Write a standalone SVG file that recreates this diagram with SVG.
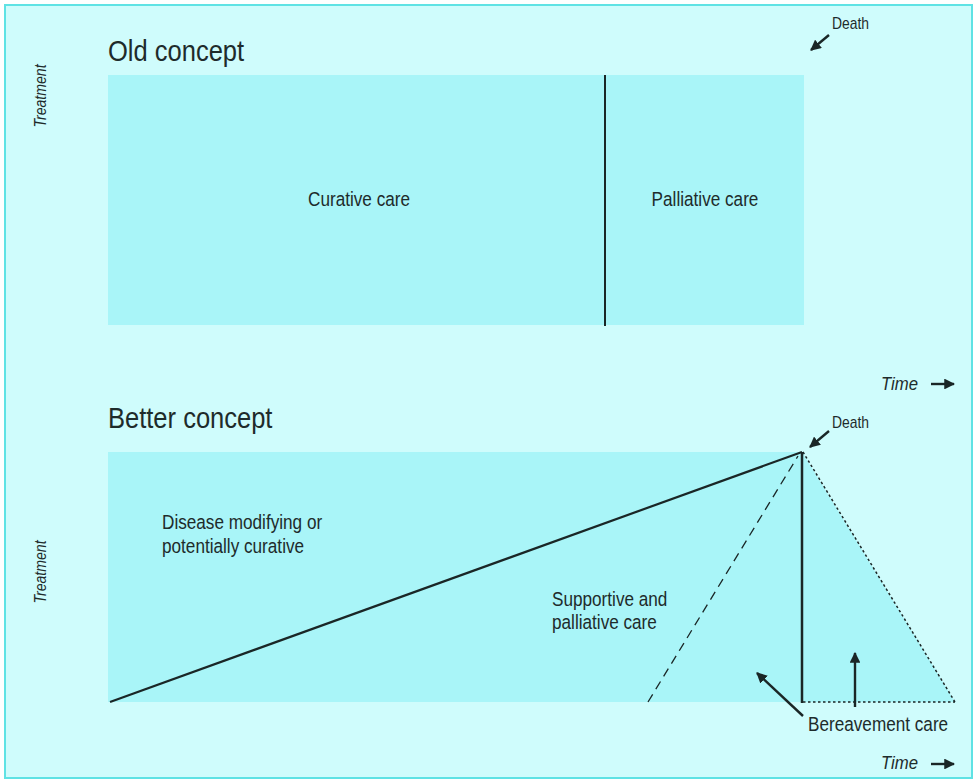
<svg xmlns="http://www.w3.org/2000/svg" width="977" height="783" viewBox="0 0 977 783">
<defs>
<marker id="ah" viewBox="0 0 10 10" refX="9" refY="5" markerWidth="4.5" markerHeight="4.5" orient="auto" markerUnits="strokeWidth">
<path d="M0,0 L10,5 L0,10 z" fill="#1a2626"/>
</marker>
<style>
.t{font-family:"Liberation Sans",Arial,sans-serif;fill:#1e2b2b}
.title{font-size:29px}
.lbl{font-size:19.5px}
.sm{font-size:15.8px}
.tm{font-size:19px}
.tr{font-size:16px}
.it{font-style:italic}
.fill{fill:#a9f5f8}
.ln{stroke:#1a2626;fill:none}
.arr{stroke:#1a2626;stroke-width:2.4;fill:none;marker-end:url(#ah)}
</style>
</defs>
<rect x="0" y="0" width="977" height="783" fill="#ffffff"/>
<rect x="5" y="5" width="967" height="773" fill="#cffcfc" stroke="#5fe2e4" stroke-width="2"/>

<g id="old-concept">
<text class="t title" transform="translate(108,61) scale(0.88,1)">Old concept</text>
<text class="t it tr" transform="translate(46,96) rotate(-90) scale(0.88,1)" text-anchor="middle">Treatment</text>
<g id="curative-care">
<rect class="fill" x="108" y="75" width="497" height="250"/>
<text class="t lbl" transform="translate(359,206) scale(0.88,1)" text-anchor="middle">Curative care</text>
</g>
<g id="palliative-care">
<rect class="fill" x="605" y="75" width="199" height="250"/>
<text class="t lbl" transform="translate(705,206) scale(0.88,1)" text-anchor="middle">Palliative care</text>
</g>
<text class="t sm" transform="translate(832,29) scale(0.88,1)">Death</text>
<text class="t it tm" transform="translate(881,390) scale(0.88,1)">Time</text>
</g>

<g id="better-concept">
<text class="t title" transform="translate(108,428) scale(0.88,1)">Better concept</text>
<text class="t it tr" transform="translate(46,572) rotate(-90) scale(0.88,1)" text-anchor="middle">Treatment</text>
<g id="treatment-area">
<rect class="fill" x="108" y="452" width="694" height="250"/>
<polygon class="fill" points="802,452 955,702 802,702"/>
</g>
<g id="disease-modifying">
<text class="t lbl" transform="translate(162,529) scale(0.88,1)">Disease modifying or</text>
<text class="t lbl" transform="translate(162,553) scale(0.88,1)">potentially curative</text>
</g>
<g id="supportive-palliative">
<text class="t lbl" transform="translate(552,606) scale(0.88,1)">Supportive and</text>
<text class="t lbl" transform="translate(552,629) scale(0.88,1)">palliative care</text>
</g>
<g id="bereavement-care">
<text class="t lbl" transform="translate(808,731) scale(0.88,1)">Bereavement care</text>
</g>
<text class="t sm" transform="translate(832,428) scale(0.88,1)">Death</text>
<text class="t it tm" transform="translate(881,769) scale(0.88,1)">Time</text>
</g>

<g id="connectors">
<line class="ln" x1="605" y1="75" x2="605" y2="326" stroke-width="2"/>
<line class="arr" x1="829" y1="35" x2="811" y2="50"/>
<line class="arr" x1="931" y1="384" x2="954" y2="384" stroke-width="2"/>
<line class="ln" x1="110" y1="702" x2="802" y2="452" stroke-width="2.2"/>
<line class="ln" x1="648" y1="702" x2="798" y2="456" stroke-width="1.3" stroke-dasharray="9,6"/>
<line class="ln" x1="802" y1="452" x2="802" y2="703" stroke-width="2.5"/>
<line class="ln" x1="803" y1="452" x2="955" y2="702" stroke-width="1.5" stroke-dasharray="2.5,2.5"/>
<line class="ln" x1="803" y1="702" x2="955" y2="702" stroke-width="1.5" stroke-dasharray="2.5,2.5"/>
<line class="arr" x1="829" y1="431" x2="810" y2="447"/>
<line class="arr" x1="803" y1="716" x2="757" y2="673"/>
<line class="arr" x1="855" y1="707" x2="855" y2="653"/>
<line class="arr" x1="931" y1="764" x2="954" y2="764" stroke-width="2"/>
</g>
</svg>
